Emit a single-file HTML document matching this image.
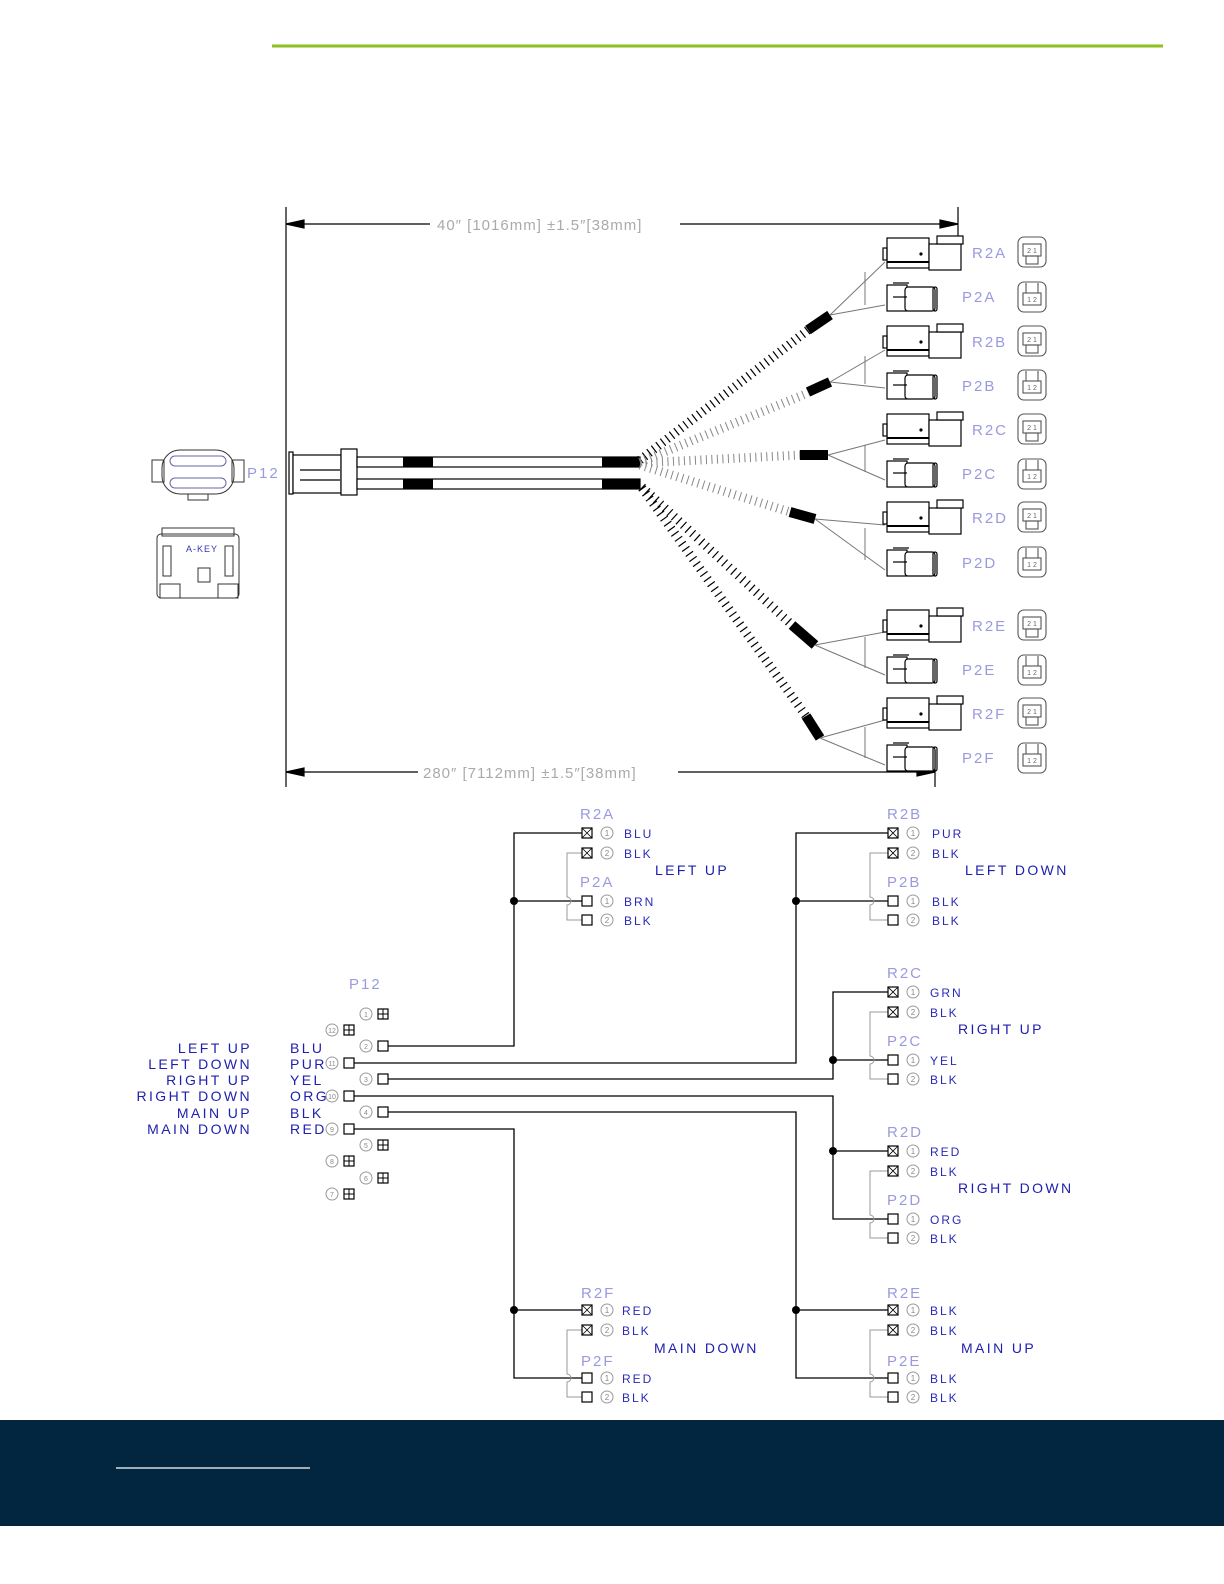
<!DOCTYPE html>
<html><head><meta charset="utf-8"><style>
html,body{margin:0;padding:0;background:#fff;}
svg{display:block;}
text{font-family:"Liberation Sans",sans-serif;}
.g{fill:#aaa;font-size:15px;letter-spacing:1px}
.b{fill:#9a9ae0;font-size:15px;letter-spacing:2px}
.d{fill:#2020b0;font-size:14px;letter-spacing:2.4px}
.s{fill:#2a2ab8;font-size:12px;letter-spacing:2px}
</style></head><body>
<svg width="1224" height="1584" viewBox="0 0 1224 1584" xmlns="http://www.w3.org/2000/svg">
<defs>
<g id="R" fill="none" stroke="#000" stroke-width="1.2">
<rect x="0" y="-18" width="42" height="30" fill="#fff"/>
<line x1="0" y1="6" x2="42" y2="6" stroke-width="2"/>
<rect x="42" y="-12" width="32" height="26" fill="#fff"/>
<rect x="50" y="-20" width="26" height="8" fill="#fff"/>
<rect x="-4" y="-8" width="4" height="12"/>
<circle cx="34" cy="-2" r="1" fill="#000"/>
</g>
<g id="P" fill="none" stroke="#000" stroke-width="1.2">
<rect x="0" y="-12" width="20" height="26" fill="#fff"/>
<rect x="18" y="-10" width="30" height="24" rx="3" fill="#fff"/>
<line x1="6" y1="-14" x2="22" y2="-14"/>
<rect x="46" y="-10" width="4" height="24" rx="2"/>
<line x1="6" y1="0" x2="20" y2="0"/>
</g>
<g id="IR" fill="none" stroke="#555" stroke-width="1.1">
<rect x="-14" y="-15" width="28" height="30" rx="6"/>
<rect x="-9" y="-8" width="18" height="12"/>
<rect x="-6" y="4" width="12" height="8"/>
<text x="0" y="1" font-size="7" fill="#666" stroke="none" text-anchor="middle">2 1</text>
</g>
<g id="IP" fill="none" stroke="#555" stroke-width="1.1">
<rect x="-14" y="-15" width="28" height="30" rx="6"/>
<rect x="-9" y="-4" width="18" height="12"/>
<line x1="-6" y1="-14" x2="-6" y2="-4"/><line x1="6" y1="-14" x2="6" y2="-4"/>
<text x="0" y="5" font-size="7" fill="#666" stroke="none" text-anchor="middle">1 2</text>
</g>
<g id="bx"><rect x="-5" y="-5" width="10" height="10" fill="#fff" stroke="#000" stroke-width="1.2"/></g>
<g id="bxx"><rect x="-5" y="-5" width="10" height="10" fill="#fff" stroke="#000" stroke-width="1.2"/><path d="M-5 -5L5 5M5 -5L-5 5" stroke="#000" stroke-width="0.8"/></g>
<g id="bp"><rect x="-5" y="-5" width="10" height="10" fill="#fff" stroke="#000" stroke-width="1.2"/><path d="M0 -5V5M-5 0H5" stroke="#000" stroke-width="1"/></g>
</defs>

<line x1="272" y1="46" x2="1163" y2="46" stroke="#8cc11f" stroke-width="3"/>

<g stroke="#000" stroke-width="1.2" fill="#000">
<line x1="286" y1="207" x2="286" y2="787"/>
<line x1="958" y1="207" x2="958" y2="240"/>
<line x1="935" y1="750" x2="935" y2="787"/>
<line x1="286" y1="224" x2="430" y2="224"/><line x1="680" y1="224" x2="958" y2="224"/>
<line x1="286" y1="772" x2="418" y2="772"/><line x1="678" y1="772" x2="935" y2="772"/>
<path d="M286 224l18 -4v8z"/><path d="M958 224l-18 -4v8z"/>
<path d="M286 772l18 -4v8z"/><path d="M935 772l-18 -4v8z"/>
</g>
<text x="437" y="230" class="g">40″ [1016mm] ±1.5″[38mm]</text>
<text x="423" y="778" class="g">280″ [7112mm] ±1.5″[38mm]</text>

<g fill="none" stroke="#333" stroke-width="1">
<rect x="162" y="450" width="72" height="44" rx="18"/>
<rect x="152" y="460" width="12" height="22"/><rect x="232" y="460" width="12" height="22"/>
<rect x="170" y="456" width="56" height="10" rx="5" stroke="#66a"/>
<rect x="170" y="478" width="56" height="10" rx="5" stroke="#66a"/>
<rect x="188" y="494" width="20" height="6"/>
<rect x="157" y="534" width="82" height="64" rx="4"/>
<rect x="162" y="528" width="72" height="8"/>
<rect x="163" y="546" width="8" height="30"/><rect x="225" y="546" width="8" height="30"/>
<rect x="198" y="568" width="12" height="14"/>
<rect x="160" y="584" width="20" height="14"/><rect x="218" y="584" width="20" height="14"/>
</g>
<text x="247" y="478" class="b">P12</text>
<text x="186" y="552" fill="#3535b5" font-size="9" letter-spacing="1">A-KEY</text>

<g fill="#fff" stroke="#000" stroke-width="1.2">
<rect x="289" y="452" width="4" height="42"/>
<rect x="293" y="455" width="48" height="38"/>
<rect x="341" y="449" width="16" height="46"/>
<line x1="300" y1="470" x2="340" y2="470"/><line x1="300" y1="480" x2="340" y2="480"/>
<rect x="357" y="457" width="283" height="10"/>
<rect x="357" y="479" width="283" height="10"/>
</g>
<g fill="#000">
<rect x="403" y="457" width="30" height="10"/><rect x="403" y="479" width="30" height="10"/>
<rect x="602" y="457" width="38" height="10"/><rect x="602" y="479" width="38" height="10"/>
</g>

<g fill="none">
<g stroke="#000" stroke-width="9" stroke-dasharray="1.2 4.5"><line x1="640" y1="460" x2="808" y2="330"/></g>
<g stroke="#888" stroke-width="9" stroke-dasharray="1 4.5"><line x1="640" y1="462" x2="808" y2="393"/><line x1="640" y1="463" x2="800" y2="455"/><line x1="640" y1="465" x2="790" y2="512"/></g>
<g stroke="#000" stroke-width="9" stroke-dasharray="1.2 5"><line x1="642" y1="487" x2="792" y2="625"/><line x1="642" y1="488" x2="806" y2="716"/></g>
</g>
<g stroke="#000" stroke-width="10">
<line x1="808" y1="330" x2="830" y2="315"/>
<line x1="808" y1="392" x2="830" y2="382"/>
<line x1="800" y1="455" x2="828" y2="455"/>
<line x1="790" y1="512" x2="815" y2="519"/>
<line x1="792" y1="625" x2="815" y2="645"/>
<line x1="806" y1="716" x2="820" y2="738"/>
</g>
<g stroke="#777" stroke-width="1" fill="none">
<path d="M830 315L885 262M830 315L885 305M865 272V305"/>
<path d="M830 382L885 350M830 382L885 388M865 356V384"/>
<path d="M828 455L885 440M828 455L885 480M865 445V472"/>
<path d="M815 519L885 525M815 519L885 570M865 528V560"/>
<path d="M815 645L885 632M815 645L885 675M865 637V668"/>
<path d="M820 738L885 720M820 738L885 765M865 727V758"/>
</g>

<use href="#R" x="887" y="256"/><use href="#P" x="887" y="297"/>
<use href="#R" x="887" y="344"/><use href="#P" x="887" y="385"/>
<use href="#R" x="887" y="432"/><use href="#P" x="887" y="473"/>
<use href="#R" x="887" y="520"/><use href="#P" x="887" y="562"/>
<use href="#R" x="887" y="628"/><use href="#P" x="887" y="669"/>
<use href="#R" x="887" y="716"/><use href="#P" x="887" y="757"/>

<g>
<text x="972" y="258" class="b">R2A</text><text x="962" y="302" class="b">P2A</text>
<text x="972" y="347" class="b">R2B</text><text x="962" y="391" class="b">P2B</text>
<text x="972" y="435" class="b">R2C</text><text x="962" y="479" class="b">P2C</text>
<text x="972" y="523" class="b">R2D</text><text x="962" y="568" class="b">P2D</text>
<text x="972" y="631" class="b">R2E</text><text x="962" y="675" class="b">P2E</text>
<text x="972" y="719" class="b">R2F</text><text x="962" y="763" class="b">P2F</text>
</g>
<use href="#IR" x="1032" y="252"/><use href="#IP" x="1032" y="297"/>
<use href="#IR" x="1032" y="341"/><use href="#IP" x="1032" y="385"/>
<use href="#IR" x="1032" y="429"/><use href="#IP" x="1032" y="474"/>
<use href="#IR" x="1032" y="517"/><use href="#IP" x="1032" y="562"/>
<use href="#IR" x="1032" y="625"/><use href="#IP" x="1032" y="670"/>
<use href="#IR" x="1032" y="713"/><use href="#IP" x="1032" y="758"/>

<g stroke="#000" stroke-width="1.3" fill="none">
<path d="M383 1046H514V833H587M514 901H587"/>
<path d="M349 1063H796V833H893M796 901H893"/>
<path d="M383 1079H833V992H893M833 1060H893"/>
<path d="M349 1096H833V1219H893M833 1151H893"/>
<path d="M383 1112H796V1378H893M796 1310H893"/>
<path d="M349 1129H514V1378H587M514 1310H587"/>
</g>
<g fill="#000">
<circle cx="514" cy="901" r="4"/><circle cx="796" cy="901" r="4"/>
<circle cx="833" cy="1060" r="4"/><circle cx="833" cy="1151" r="4"/>
<circle cx="796" cy="1310" r="4"/><circle cx="514" cy="1310" r="4"/>
</g>
<g fill="none" stroke-width="1">
<path d="M587 853H567V897a4 4 0 0 1 0 8V920H587" stroke="#999"/>
<path d="M893 853H870V897a4 4 0 0 1 0 8V920H893" stroke="#999"/>
<path d="M893 1012H870V1056a4 4 0 0 1 0 8V1079H893" stroke="#999"/>
<path d="M893 1171H870V1215a4 4 0 0 1 0 8V1238H893" stroke="#999"/>
<path d="M893 1330H870V1374a4 4 0 0 1 0 8V1397H893" stroke="#999"/>
<path d="M587 1330H567V1374a4 4 0 0 1 0 8V1397H587" stroke="#999"/>
</g>

<g>
<use href="#bxx" x="587" y="833"/><use href="#bxx" x="587" y="853"/><use href="#bx" x="587" y="901"/><use href="#bx" x="587" y="920"/>
<use href="#bxx" x="893" y="833"/><use href="#bxx" x="893" y="853"/><use href="#bx" x="893" y="901"/><use href="#bx" x="893" y="920"/>
<use href="#bxx" x="893" y="992"/><use href="#bxx" x="893" y="1012"/><use href="#bx" x="893" y="1060"/><use href="#bx" x="893" y="1079"/>
<use href="#bxx" x="893" y="1151"/><use href="#bxx" x="893" y="1171"/><use href="#bx" x="893" y="1219"/><use href="#bx" x="893" y="1238"/>
<use href="#bxx" x="893" y="1310"/><use href="#bxx" x="893" y="1330"/><use href="#bx" x="893" y="1378"/><use href="#bx" x="893" y="1397"/>
<use href="#bxx" x="587" y="1310"/><use href="#bxx" x="587" y="1330"/><use href="#bx" x="587" y="1378"/><use href="#bx" x="587" y="1397"/>
</g>
<g fill="none" stroke="#999" stroke-width="1">
<circle cx="607" cy="833" r="6"/><circle cx="607" cy="853" r="6"/><circle cx="607" cy="901" r="6"/><circle cx="607" cy="920" r="6"/>
<circle cx="913" cy="833" r="6"/><circle cx="913" cy="853" r="6"/><circle cx="913" cy="901" r="6"/><circle cx="913" cy="920" r="6"/>
<circle cx="913" cy="992" r="6"/><circle cx="913" cy="1012" r="6"/><circle cx="913" cy="1060" r="6"/><circle cx="913" cy="1079" r="6"/>
<circle cx="913" cy="1151" r="6"/><circle cx="913" cy="1171" r="6"/><circle cx="913" cy="1219" r="6"/><circle cx="913" cy="1238" r="6"/>
<circle cx="913" cy="1310" r="6"/><circle cx="913" cy="1330" r="6"/><circle cx="913" cy="1378" r="6"/><circle cx="913" cy="1397" r="6"/>
<circle cx="607" cy="1310" r="6"/><circle cx="607" cy="1330" r="6"/><circle cx="607" cy="1378" r="6"/><circle cx="607" cy="1397" r="6"/>
</g>
<g font-size="8" fill="#888" text-anchor="middle">
<text x="607" y="836">1</text><text x="607" y="856">2</text><text x="607" y="904">1</text><text x="607" y="923">2</text>
<text x="913" y="836">1</text><text x="913" y="856">2</text><text x="913" y="904">1</text><text x="913" y="923">2</text>
<text x="913" y="995">1</text><text x="913" y="1015">2</text><text x="913" y="1063">1</text><text x="913" y="1082">2</text>
<text x="913" y="1154">1</text><text x="913" y="1174">2</text><text x="913" y="1222">1</text><text x="913" y="1241">2</text>
<text x="913" y="1313">1</text><text x="913" y="1333">2</text><text x="913" y="1381">1</text><text x="913" y="1400">2</text>
<text x="607" y="1313">1</text><text x="607" y="1333">2</text><text x="607" y="1381">1</text><text x="607" y="1400">2</text>
</g>
<g>
<text x="624" y="838" class="s">BLU</text><text x="624" y="858" class="s">BLK</text><text x="624" y="906" class="s">BRN</text><text x="624" y="925" class="s">BLK</text>
<text x="932" y="838" class="s">PUR</text><text x="932" y="858" class="s">BLK</text><text x="932" y="906" class="s">BLK</text><text x="932" y="925" class="s">BLK</text>
<text x="930" y="997" class="s">GRN</text><text x="930" y="1017" class="s">BLK</text><text x="930" y="1065" class="s">YEL</text><text x="930" y="1084" class="s">BLK</text>
<text x="930" y="1156" class="s">RED</text><text x="930" y="1176" class="s">BLK</text><text x="930" y="1224" class="s">ORG</text><text x="930" y="1243" class="s">BLK</text>
<text x="930" y="1315" class="s">BLK</text><text x="930" y="1335" class="s">BLK</text><text x="930" y="1383" class="s">BLK</text><text x="930" y="1402" class="s">BLK</text>
<text x="622" y="1315" class="s">RED</text><text x="622" y="1335" class="s">BLK</text><text x="622" y="1383" class="s">RED</text><text x="622" y="1402" class="s">BLK</text>
</g>
<g>
<text x="580" y="819" class="b">R2A</text><text x="580" y="887" class="b">P2A</text>
<text x="887" y="819" class="b">R2B</text><text x="887" y="887" class="b">P2B</text>
<text x="887" y="978" class="b">R2C</text><text x="887" y="1046" class="b">P2C</text>
<text x="887" y="1137" class="b">R2D</text><text x="887" y="1205" class="b">P2D</text>
<text x="887" y="1298" class="b">R2E</text><text x="887" y="1366" class="b">P2E</text>
<text x="581" y="1298" class="b">R2F</text><text x="581" y="1366" class="b">P2F</text>
<text x="349" y="989" class="b">P12</text>
</g>
<g>
<text x="655" y="875" class="d">LEFT UP</text>
<text x="965" y="875" class="d">LEFT DOWN</text>
<text x="958" y="1034" class="d">RIGHT UP</text>
<text x="958" y="1193" class="d">RIGHT DOWN</text>
<text x="654" y="1353" class="d">MAIN DOWN</text>
<text x="961" y="1353" class="d">MAIN UP</text>
</g>
<g fill="none" stroke="#999" stroke-width="1">
<circle cx="366" cy="1014" r="6"/><circle cx="332" cy="1030" r="6"/><circle cx="366" cy="1046" r="6"/>
<circle cx="332" cy="1063" r="6"/><circle cx="366" cy="1079" r="6"/><circle cx="332" cy="1096" r="6"/>
<circle cx="366" cy="1112" r="6"/><circle cx="332" cy="1129" r="6"/><circle cx="366" cy="1145" r="6"/>
<circle cx="332" cy="1161" r="6"/><circle cx="366" cy="1178" r="6"/><circle cx="332" cy="1194" r="6"/>
</g>
<g font-size="7" fill="#888" text-anchor="middle">
<text x="366" y="1017">1</text><text x="332" y="1033">12</text><text x="366" y="1049">2</text>
<text x="332" y="1066">11</text><text x="366" y="1082">3</text><text x="332" y="1099">10</text>
<text x="366" y="1115">4</text><text x="332" y="1132">9</text><text x="366" y="1148">5</text>
<text x="332" y="1164">8</text><text x="366" y="1181">6</text><text x="332" y="1197">7</text>
</g>
<use href="#bp" x="383" y="1014"/><use href="#bp" x="349" y="1030"/><use href="#bx" x="383" y="1046"/>
<use href="#bx" x="349" y="1063"/><use href="#bx" x="383" y="1079"/><use href="#bx" x="349" y="1096"/>
<use href="#bx" x="383" y="1112"/><use href="#bx" x="349" y="1129"/><use href="#bp" x="383" y="1145"/>
<use href="#bp" x="349" y="1161"/><use href="#bp" x="383" y="1178"/><use href="#bp" x="349" y="1194"/>
<g text-anchor="end">
<text x="252" y="1053" class="d">LEFT UP</text>
<text x="252" y="1069" class="d">LEFT DOWN</text>
<text x="252" y="1085" class="d">RIGHT UP</text>
<text x="252" y="1101" class="d">RIGHT DOWN</text>
<text x="252" y="1118" class="d">MAIN UP</text>
<text x="252" y="1134" class="d">MAIN DOWN</text>
</g>
<g>
<text x="290" y="1053" class="d">BLU</text><text x="290" y="1069" class="d">PUR</text>
<text x="290" y="1085" class="d">YEL</text><text x="290" y="1101" class="d">ORG</text>
<text x="290" y="1118" class="d">BLK</text><text x="290" y="1134" class="d">RED</text>
</g>

<rect x="0" y="1420" width="1224" height="106" fill="#032640"/>
<line x1="116" y1="1468" x2="310" y2="1468" stroke="#fff" stroke-width="1.2"/>
</svg>
</body></html>
